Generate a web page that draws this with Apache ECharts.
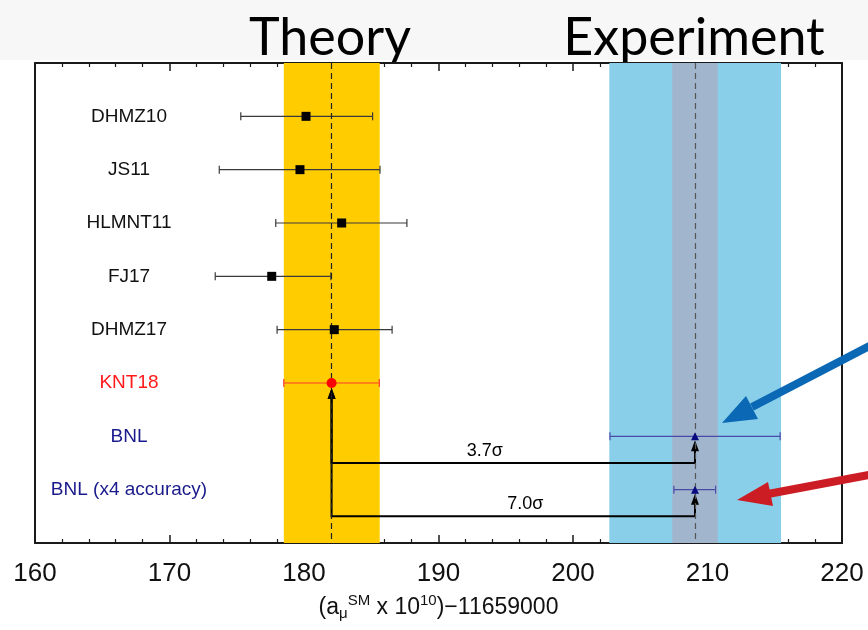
<!DOCTYPE html>
<html>
<head>
<meta charset="utf-8">
<script src="https://cdn.jsdelivr.net/npm/echarts@6/dist/echarts.min.js"></script>
<style>
  html, body { margin: 0; padding: 0; background: #fff; }
  #chart { width: 868px; height: 630px; }
</style>
</head>
<body>
<div id="chart"></div>
<script>
// rows, top to bottom
const names = ['DHMZ10', 'JS11', 'HLMNT11', 'FJ17', 'DHMZ17', 'KNT18', 'BNL', 'BNL (x4 accuracy)']
const centers = [180.15, 179.7, 182.8, 177.6, 182.25, 182.05, 209.07, 209.07]
const lows = [175.3, 173.7, 177.9, 173.4, 178.0, 178.5, 202.75, 207.5]
const highs = [185.1, 185.65, 187.65, 182.0, 186.55, 185.6, 215.4, 210.6]
const groups = ['th', 'th', 'th', 'th', 'th', 'knt', 'exp', 'exp']

const theoryBand = [178.5, 185.63]
const expBand = [202.7, 215.47]
const expBand4 = [207.38, 210.76]
const theoryLine = 182.05
const expLine = 209.07

const sigmaLabels = ['3.7σ', '7.0σ']
const sigmaTargets = [6, 7] // indexes into rows

const xTicks = [160, 170, 180, 190, 200, 210, 220]

const labelColors = { th: '#111111', knt: '#ff1a1a', exp: '#1a1a8c' }
const barColors = { th: '#3a3a3a', knt: '#ff3b2f', exp: '#4a4aa8' }

const chart = echarts.init(document.getElementById('chart'))
const FONT = "'Liberation Sans', Arial, sans-serif"
const ink = '#1a1a1a'

const rowOf = i => i + 1

const xAxisBase = {
  type: 'value', min: xTicks[0], max: xTicks[xTicks.length - 1], interval: 10,
  axisLine: { show: true, onZero: false, lineStyle: { color: ink, width: 2 } },
  axisTick: { show: true, inside: true, length: 8, lineStyle: { color: ink, width: 1.5 } },
  minorTick: { show: true, splitNumber: 5, length: 4, lineStyle: { color: ink, width: 1.2 } },
  splitLine: { show: false }
}

const option = {
  animation: false,
  backgroundColor: '#ffffff',
  grid: { left: 35, right: 26, top: 63, bottom: 87 },
  xAxis: [
    Object.assign({}, xAxisBase, {
      position: 'bottom',
      axisLabel: { fontSize: 26, color: '#111', margin: 18, fontFamily: FONT },
      name: '{n|(a}{sub|μ}{sup|SM}{n| x 10}{sup|10}{n|)−11659000}',
      nameLocation: 'middle',
      nameGap: 50,
      nameTextStyle: {
        fontFamily: FONT,
        rich: {
          n: { fontSize: 23, color: '#111', fontFamily: FONT },
          sup: { fontSize: 15, color: '#111', fontFamily: FONT, padding: [0, 0, 14, 0] },
          sub: { fontSize: 15, color: '#111', fontFamily: FONT, padding: [12, 0, 0, 0] }
        }
      }
    }),
    Object.assign({}, xAxisBase, {
      position: 'top',
      axisLabel: { show: false }
    })
  ],
  yAxis: [
    {
      type: 'value', inverse: true, min: 0, max: names.length + 1, interval: 1,
      position: 'left',
      axisLine: { show: true, onZero: false, lineStyle: { color: ink, width: 2 } },
      axisTick: { show: false },
      splitLine: { show: false },
      axisLabel: {
        inside: true,
        margin: 94,
        align: 'center',
        fontFamily: FONT,
        fontSize: 19,
        formatter: v => names[v - 1] || '',
        color: v => (groups[v - 1] ? labelColors[groups[v - 1]] : '#111')
      }
    },
    {
      type: 'value', inverse: true, min: 0, max: names.length + 1, interval: 1,
      position: 'right',
      axisLine: { show: true, onZero: false, lineStyle: { color: ink, width: 2 } },
      axisTick: { show: false },
      splitLine: { show: false },
      axisLabel: { show: false }
    }
  ],
  graphic: [
    { type: 'rect', z: -10, shape: { x: 0, y: 0, width: 868, height: 60 }, style: { fill: '#f7f7f7' } },
    { type: 'text', x: 330, y: 12, style: { text: 'Theory', fontSize: 52, fontFamily: 'Lato', fill: '#000', align: 'center', verticalAlign: 'top' } },
    { type: 'text', x: 694, y: 12, style: { text: 'Experiment', fontSize: 52, fontFamily: 'Lato', fill: '#000', align: 'center', verticalAlign: 'top' } },
    // blue pointer
    { type: 'polyline', z: 100, shape: { points: [[900, 330], [752, 407]] }, style: { stroke: '#0a68b4', lineWidth: 8 } },
    { type: 'polygon', z: 100, shape: { points: [[722, 423], [758, 419], [746, 396]] }, style: { fill: '#0a68b4' } },
    // red pointer
    { type: 'polyline', z: 100, shape: { points: [[900, 469], [768, 494]] }, style: { stroke: '#cc1c24', lineWidth: 8 } },
    { type: 'polygon', z: 100, shape: { points: [[737, 500], [773, 506], [768, 482]] }, style: { fill: '#cc1c24' } }
  ],
  series: [
    {
      // bands and central lines
      type: 'scatter',
      data: [],
      z: 1,
      silent: true,
      markArea: {
        silent: true,
        label: { show: false },
        data: [
          [{ xAxis: theoryBand[0], itemStyle: { color: '#ffcc00', opacity: 1 } }, { xAxis: theoryBand[1] }],
          [{ xAxis: expBand[0], itemStyle: { color: '#89cfea', opacity: 1 } }, { xAxis: expBand[1] }],
          [{ xAxis: expBand4[0], itemStyle: { color: '#a1b5cd', opacity: 1 } }, { xAxis: expBand4[1] }]
        ]
      },
      markLine: {
        silent: true,
        symbol: 'none',
        label: { show: false },
        data: [
          { xAxis: theoryLine, lineStyle: { color: '#222', type: [6, 4], width: 1.2 } },
          { xAxis: expLine, lineStyle: { color: '#555', type: [6, 4], width: 1.2 } }
        ]
      }
    },
    {
      // error bars
      type: 'custom',
      z: 3,
      silent: true,
      data: names.map((n, i) => [rowOf(i), lows[i], highs[i]]),
      encode: { x: [1, 2], y: 0 },
      renderItem: (params, api) => {
        const y = api.value(0)
        const a = api.coord([api.value(1), y])
        const b = api.coord([api.value(2), y])
        const stroke = barColors[groups[params.dataIndex]]
        const st = { stroke, lineWidth: 1.2 }
        return {
          type: 'group',
          children: [
            { type: 'line', shape: { x1: a[0], y1: a[1], x2: b[0], y2: b[1] }, style: st },
            { type: 'line', shape: { x1: a[0], y1: a[1] - 4, x2: a[0], y2: a[1] + 4 }, style: st },
            { type: 'line', shape: { x1: b[0], y1: b[1] - 4, x2: b[0], y2: b[1] + 4 }, style: st }
          ]
        }
      }
    },
    {
      // significance connectors
      type: 'custom',
      z: 4,
      silent: true,
      data: sigmaTargets.map((t, i) => [i]),
      encode: { x: 0, y: 0 },
      renderItem: (params, api) => {
        const i = params.dataIndex
        const src = 5
        const dst = sigmaTargets[i]
        const p0 = api.coord([centers[src], rowOf(src)])
        const pLevel = api.coord([centers[src], rowOf(dst) + 0.5])
        const p1 = api.coord([centers[dst], rowOf(dst) + 0.5])
        const p2 = api.coord([centers[dst], rowOf(dst)])
        const off = 5
        const head = (x, y) => ({
          type: 'polygon',
          shape: { points: [[x, y], [x - 4, y + 11], [x + 4, y + 11]] },
          style: { fill: '#000' }
        })
        const lab = api.coord([centers[src] + (i === 0 ? 11.4 : 14.4), rowOf(dst) + 0.5])
        return {
          type: 'group',
          children: [
            {
              type: 'polyline',
              shape: { points: [[p0[0], p0[1] + off + 8], [pLevel[0], pLevel[1]], [p1[0], p1[1]], [p2[0], p2[1] + off + 8]] },
              style: { stroke: '#000', lineWidth: 2, fill: null }
            },
            head(p0[0], p0[1] + off),
            head(p2[0], p2[1] + off - 1),
            {
              type: 'text',
              x: lab[0], y: lab[1] - 12,
              style: { text: sigmaLabels[i], fontSize: 18, fontFamily: FONT, fill: '#000', align: 'center', verticalAlign: 'middle' }
            }
          ]
        }
      }
    },
    {
      // central values
      type: 'scatter',
      z: 5,
      silent: true,
      data: names.map((n, i) => {
        const g = groups[i]
        return {
          value: [centers[i], rowOf(i)],
          symbol: g === 'th' ? 'rect' : g === 'knt' ? 'circle' : 'triangle',
          symbolSize: g === 'th' ? 9 : g === 'knt' ? 10 : 8,
          itemStyle: { color: g === 'th' ? '#000' : g === 'knt' ? '#ff0000' : '#0a0a80', opacity: 1 }
        }
      })
    }
  ]
}

chart.setOption(option)
</script>
</body>
</html>
